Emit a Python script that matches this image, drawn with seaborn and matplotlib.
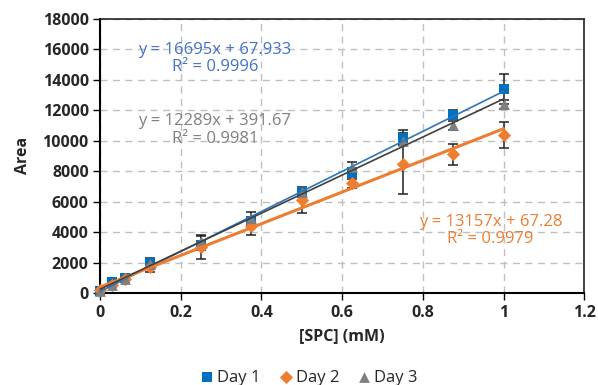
import numpy as np
import pandas as pd
import matplotlib
matplotlib.use("Agg")
import matplotlib.pyplot as plt
import seaborn as sns

conc = [0, 0.03125, 0.0625, 0.125, 0.25, 0.375, 0.5, 0.625, 0.75, 0.875, 1.0]
day1 = [100, 700, 1000, 2000, 3100, 4700, 6600, 7900, 10200, 11700, 13400]
day2 = [200, 500, 900, 1700, 3000, 4400, 6100, 7200, 8500, 9100, 10400]
day3 = [150, 500, 900, 1900, 3400, 4900, 6600, 8300, 10000, 11000, 12400]
err1 = [50, 100, 100, 300, 300, 300, 300, 300, 500, 300, 1000]
err2 = [50, 100, 100, 300, 750, 600, 850, 300, 2000, 700, 850]
err3 = [50, 100, 100, 300, 400, 400, 300, 300, 300, 300, 300]
series = ["Day 1", "Day 2", "Day 3"]
equations = ["y = 16695x + 67.933\nR\u00b2 = 0.9996",
             "y = 13157x + 67.28\nR\u00b2 = 0.9979",
             "y = 12289x + 391.67\nR\u00b2 = 0.9981"]

colors = {"Day 1": "#0070C0", "Day 2": "#ED7D31", "Day 3": "#7F7F7F"}
text_colors = {"Day 1": "#4472C4", "Day 2": "#ED7D31", "Day 3": "#7F7F7F"}
line_colors = {"Day 1": "#2E75B6", "Day 2": "#ED7D31", "Day 3": "#404040"}
line_widths = {"Day 1": 1.2, "Day 2": 2.2, "Day 3": 1.2}
markers = {"Day 1": "s", "Day 2": "D", "Day 3": "^"}
msizes = {"Day 1": 60, "Day 2": 45, "Day 3": 60}

df = pd.DataFrame({
    "conc": conc * 3,
    "area": day1 + day2 + day3,
    "err": err1 + err2 + err3,
    "day": sum([[s] * len(conc) for s in series], []),
})

sns.set_style("white")
plt.rcParams["font.family"] = ["Open Sans", "DejaVu Sans"]

fig = plt.figure(figsize=(5.98, 3.85), dpi=100)
ax = fig.add_axes([0.167, 0.239, 0.81, 0.712])

for s in series:
    d = df[df["day"] == s]
    ax.errorbar(d["conc"], d["area"], yerr=d["err"], fmt="none",
                ecolor="#222222", elinewidth=1.1, capsize=3.5, capthick=1.1, zorder=2)

for s in series:
    d = df[df["day"] == s]
    sns.regplot(data=d, x="conc", y="area", ax=ax, ci=None, scatter=False,
                line_kws={"color": line_colors[s], "lw": line_widths[s], "zorder": 4})

for s in series:
    d = df[df["day"] == s]
    sns.scatterplot(data=d, x="conc", y="area", ax=ax, marker=markers[s],
                    color=colors[s], s=msizes[s], edgecolor=colors[s],
                    linewidth=0, zorder=3, label=s, clip_on=False)

fs_eq = 12
ax.text(0.285, 15400, equations[0], color=text_colors["Day 1"], ha="center",
        va="center", fontsize=fs_eq, linespacing=1.15)
ax.text(0.285, 10700, equations[2], color=text_colors["Day 3"], ha="center",
        va="center", fontsize=fs_eq, linespacing=1.15)
ax.text(0.968, 4100, equations[1], color=text_colors["Day 2"], ha="center",
        va="center", fontsize=fs_eq, linespacing=1.15)

ax.set_xlim(0, 1.2)
ax.set_ylim(0, 18000)
ax.set_xticks(np.arange(0, 1.21, 0.2))
ax.set_xticklabels(["0", "0.2", "0.4", "0.6", "0.8", "1", "1.2"])
ax.set_yticks(np.arange(0, 18001, 2000))
ax.set_xlabel("[SPC] (mM)", fontsize=11.5, fontweight="bold", labelpad=5)
ax.set_ylabel("Area", fontsize=11.5, fontweight="bold", labelpad=8)
for lab in ax.get_xticklabels() + ax.get_yticklabels():
    lab.set_fontweight("bold")
    lab.set_fontsize(11.5)
ax.tick_params(axis="both", direction="out", length=5, width=1, color="black",
               bottom=True, left=True, pad=3)
ax.tick_params(axis="x", pad=4)
ax.grid(True, linestyle=(0, (5, 4)), color="#BFBFBF", linewidth=1)
ax.set_axisbelow(True)
for side in ["left", "bottom"]:
    ax.spines[side].set_color("black")
    ax.spines[side].set_linewidth(1.5)
for side in ["top", "right"]:
    ax.spines[side].set_color("#222222")
    ax.spines[side].set_linewidth(1.2)

ax.legend(loc="upper center", bbox_to_anchor=(0.43, -0.225), ncol=3, frameon=False,
          fontsize=12, handletextpad=0.1, columnspacing=1.0, handlelength=1.0)

fig.savefig("out.png", dpi=100)
